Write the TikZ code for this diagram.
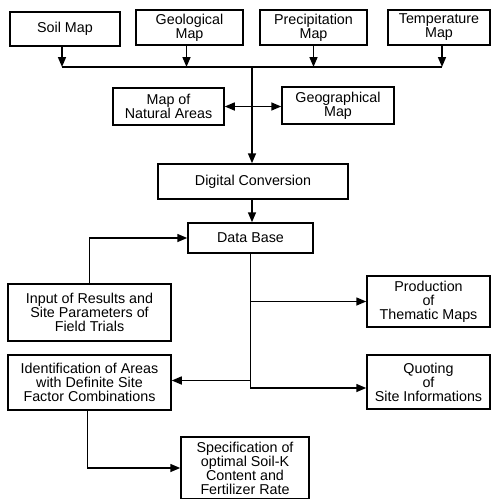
\documentclass[tikz,border=0pt]{standalone}
\usepackage{fontspec}
\setmainfont{Liberation Sans}
\usetikzlibrary{shapes,arrows.meta}
\tikzstyle{block} = [rectangle, draw, line width=1.5pt, align=center, inner sep=1pt, font=\fontsize{14.3}{14}\selectfont]
\tikzstyle{line} = [draw, line width=1.5pt]
\tikzstyle{arrow} = [draw, line width=1.5pt, -{Triangle[length=10pt,width=8pt]}]
\tikzstyle{twoway} = [draw, line width=1.5pt, {Triangle[length=10pt,width=8pt]}-{Triangle[length=10pt,width=8pt]}]

\begin{document}
\begin{tikzpicture}[x=1pt, y=-1pt]
\useasboundingbox (0,0) rectangle (492,499);

%% source maps
\node [block, minimum width=110pt, minimum height=34pt] at (65, 29) (soil) {Soil Map};
\node [block, minimum width=107pt, minimum height=35pt] at (189.5, 27.5) (geo) {Geological\\Map};
\node [block, minimum width=107pt, minimum height=35pt] at (313.5, 27.5) (precip) {Precipitation\\Map};
\node [block, minimum width=102pt, minimum height=35pt] at (439, 27.5) (temp) {Temperature\\Map};

\coordinate (bus) at (252, 67);
\path [arrow] ([xshift=-3pt]soil.south) to ([xshift=-3pt]soil.south |- bus);
\path [arrow] ([xshift=-3pt]geo.south) to ([xshift=-3pt]geo.south |- bus);
\path [arrow] (precip.south) to (precip.south |- bus);
\path [arrow] ([xshift=3pt]temp.south) to ([xshift=3pt]temp.south |- bus);
\path [line] ([xshift=-3pt]soil.south |- bus) to ([xshift=3pt]temp.south |- bus);

%% side maps
\node [block, minimum width=111pt, minimum height=37pt] at (168.5, 106.5) (natural) {Map of\\Natural Areas};
\node [block, minimum width=112pt, minimum height=37pt] at (338, 105.5) (geograph) {Geographical\\Map};
\path [twoway] (natural.east) to (natural.east -| geograph.west);

%% conversion
\node [block, minimum width=190pt, minimum height=35pt] at (253, 181.5) (digital) {Digital Conversion};
\path [arrow] (bus) to (bus |- digital.north);

\node [block, minimum width=125pt, minimum height=30pt] at (250.5, 238) (database) {Data Base};
\path [arrow] (bus |- digital.south) to (bus |- database.north);

%% field trials
\node [block, minimum width=163pt, minimum height=57pt] at (89.5, 312.5) (input) {Input of Results and\\Site Parameters of\\Field Trials};
\path [arrow] (input.north) |- (database.west);

%% outputs
\node [block, minimum width=123pt, minimum height=51pt] at (428.5, 301.5) (production) {Production\\of\\Thematic Maps};
\node [block, minimum width=123pt, minimum height=54pt] at (428.5, 382) (quoting) {Quoting\\of\\Site Informations};
\node [block, minimum width=163pt, minimum height=55pt] at (89.5, 382.5) (ident) {Identification of Areas\\with Definite Site\\Factor Combinations};

\path [arrow] (database.south) |- ([yshift=-6pt]quoting.west);
\path [arrow] (database.south |- production.west) to (production.west);
\path [arrow] ([yshift=2pt]database.south |- ident.east) to ([yshift=2pt]ident.east);

\node [block, minimum width=128pt, minimum height=62pt] at (245, 468) (spec) {Specification of\\optimal Soil-K\\Content and\\Fertilizer Rate};
\path [arrow] ([xshift=-2pt]ident.south) |- (spec.west);
\end{tikzpicture}
\end{document}
